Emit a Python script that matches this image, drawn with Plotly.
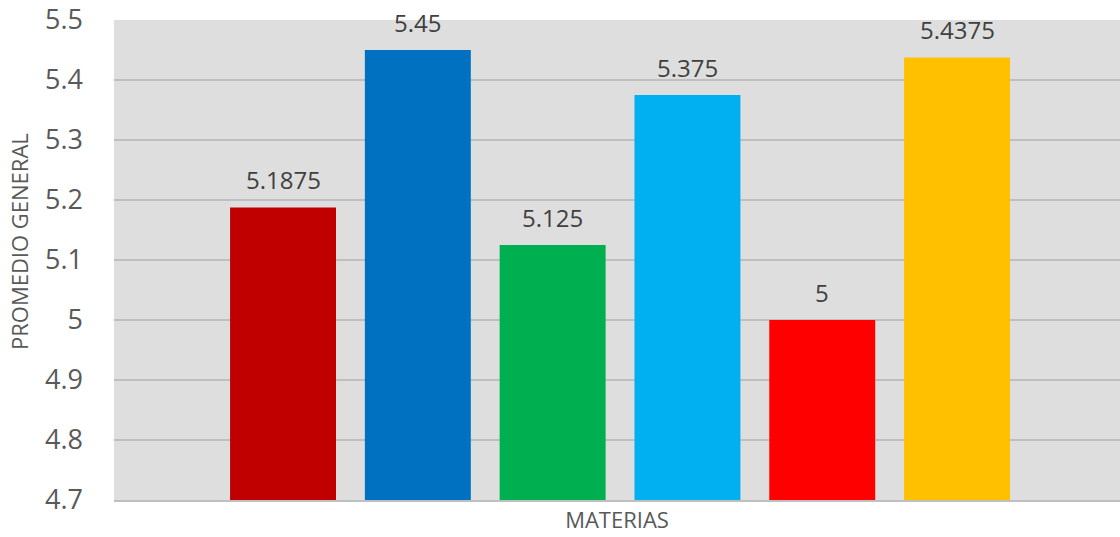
import plotly.graph_objects as go

categories = ["Materia 1", "Materia 2", "Materia 3", "Materia 4", "Materia 5", "Materia 6"]
values = [5.1875, 5.45, 5.125, 5.375, 5.0, 5.4375]
labels = ["5.1875", "5.45", "5.125", "5.375", "5", "5.4375"]
colors = ["#C00000", "#0070C0", "#00B050", "#00B0F0", "#FF0000", "#FFC000"]
y_ticks = [4.7, 4.8, 4.9, 5.0, 5.1, 5.2, 5.3, 5.4, 5.5]
y_ticktext = ["4.7", "4.8", "4.9", "5", "5.1", "5.2", "5.3", "5.4", "5.5"]

FONT = "Open Sans"
BASE = 4.7

fig = go.Figure()
fig.add_trace(go.Bar(
    x=categories, y=[v - BASE for v in values], base=BASE,
    marker=dict(color=colors, line=dict(width=0)),
    hoverinfo="skip",
))

for c, v, t in zip(categories, values, labels):
    fig.add_annotation(x=c, y=v, text=t, showarrow=False, xref="x", yref="y",
                       yanchor="middle", yshift=28,
                       font=dict(family=FONT, size=24, color="#404040"))

# y-axis title (offset upward like the original)
fig.add_annotation(text="PROMEDIO GENERAL", xref="paper", yref="paper",
                   x=-0.0944, y=0.5375, xanchor="center", yanchor="middle",
                   textangle=-90, showarrow=False,
                   font=dict(family=FONT, size=22, color="#595959"))

fig.update_layout(
    width=1120, height=537,
    margin=dict(l=114, r=0, t=20, b=37),
    paper_bgcolor="white",
    plot_bgcolor="#DEDEDE",
    bargap=0.214,
    showlegend=False,
    xaxis=dict(
        range=[-1.254, 6.209],
        showticklabels=False, showgrid=False, zeroline=False,
        showline=True, linecolor="#BFBFBF", linewidth=2,
        title=dict(text="MATERIAS", font=dict(family=FONT, size=22, color="#595959"), standoff=12),
    ),
    yaxis=dict(
        range=[4.7, 5.5],
        tickvals=y_ticks, ticktext=y_ticktext,
        tickfont=dict(family=FONT, size=27, color="#595959"),
        ticklabelstandoff=30,
        showgrid=True, gridcolor="#BFBFBF", gridwidth=2,
        zeroline=False, showline=False,
    ),
)

fig.write_html("out.html", config={"displayModeBar": False},
               post_script="document.body.style.margin='0';document.body.style.overflow='hidden';")
